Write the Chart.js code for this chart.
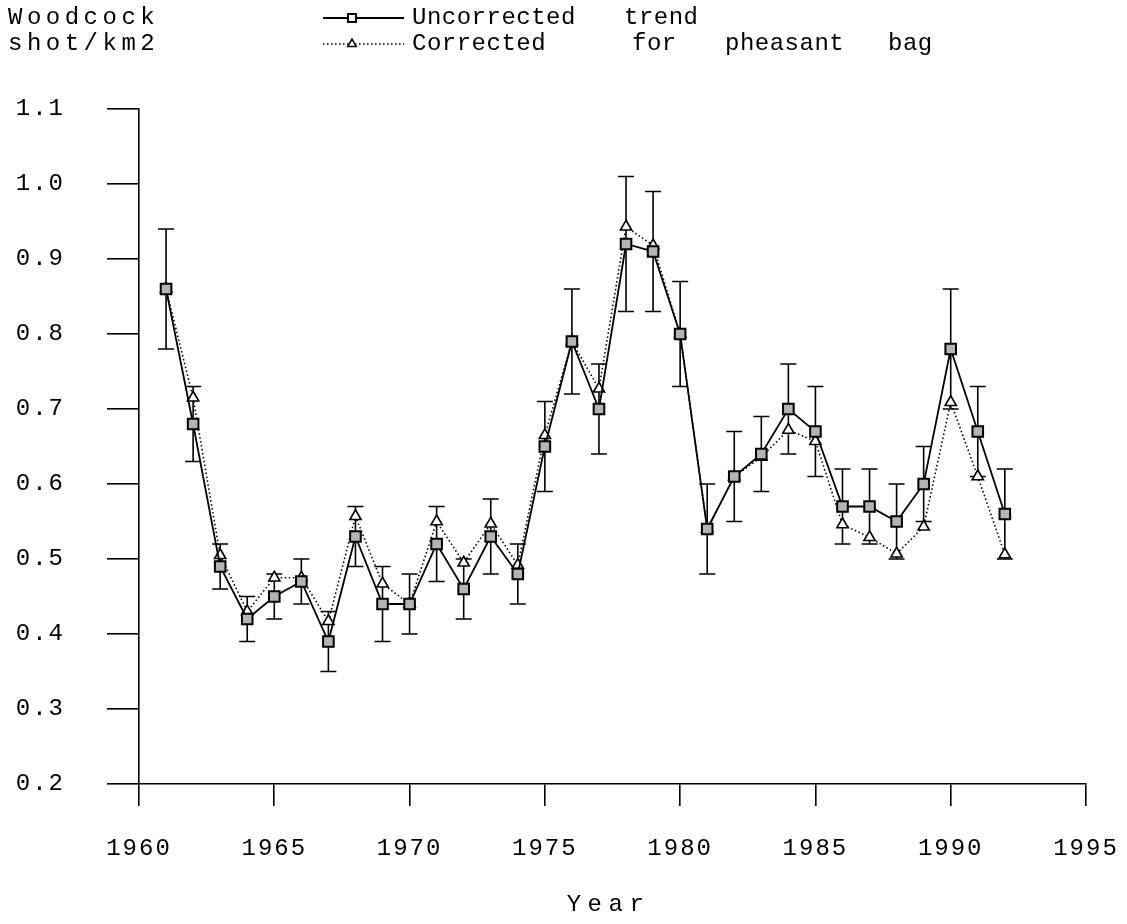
<!DOCTYPE html>
<html>
<head>
<meta charset="utf-8">
<title>Woodcock shot/km2</title>
<script src="https://cdn.jsdelivr.net/npm/chart.js@4.4.0/dist/chart.umd.min.js"></script>
<style>
  html, body { margin: 0; padding: 0; background: #fff; }
  canvas { display: block; }
</style>
</head>
<body>
<canvas id="grafico" width="1127" height="924"></canvas>
<script>
// Años y series
const anios = [1961, 1962, 1963, 1964, 1965, 1966, 1967, 1968, 1969, 1970,
               1971, 1972, 1973, 1974, 1975, 1976, 1977, 1978, 1979, 1980,
               1981, 1982, 1983, 1984, 1985, 1986, 1987, 1988, 1989, 1990,
               1991, 1992];
const sinCorregir = [0.86, 0.68, 0.49, 0.42, 0.45, 0.47, 0.39, 0.53, 0.44, 0.44,
                     0.52, 0.46, 0.53, 0.48, 0.65, 0.79, 0.70, 0.92, 0.91, 0.80,
                     0.54, 0.61, 0.64, 0.70, 0.67, 0.57, 0.57, 0.55, 0.60, 0.78,
                     0.67, 0.56];
const corregido = [0.86, 0.715, 0.505, 0.43, 0.475, 0.475, 0.417, 0.557, 0.467, 0.44,
                   0.55, 0.495, 0.547, 0.492, 0.665, 0.79, 0.727, 0.943, 0.918, 0.80,
                   0.54, 0.61, 0.636, 0.672, 0.657, 0.546, 0.529, 0.507, 0.543, 0.709,
                   0.61, 0.506];
// Error estándar de la serie sin corregir
const errorSinCorregir = [0.08, 0.05, 0.03, 0.03, 0.03, 0.03, 0.04, 0.04, 0.05, 0.04,
                          0.05, 0.04, 0.05, 0.04, 0.06, 0.07, 0.06, 0.09, 0.08, 0.07,
                          0.06, 0.06, 0.05, 0.06, 0.06, 0.05, 0.05, 0.05, 0.05, 0.08,
                          0.06, 0.06];

// Ejes
const ejeX = { min: 1960, max: 1995, paso: 5 };
const ejeY = { min: 0.2, max: 1.1, paso: 0.1 };

// Textos
const tituloY = ['Woodcock', 'shot/km2'];
const tituloX = 'Year';
const leyenda = [['Uncorrected', 'trend'], ['Corrected', 'for', 'pheasant', 'bag']];
const leyendaPosX = [[412, 624], [412, 632, 725, 888]];

const FUENTE = '"Liberation Mono", "DejaVu Sans Mono", monospace';

// Barras de error (debajo de los marcadores)
const barrasError = {
    id: 'barrasError',
    beforeDatasetsDraw(chart) {
        const { ctx, scales: { x, y } } = chart;
        ctx.save();
        ctx.strokeStyle = '#000';
        ctx.lineWidth = 1.6;
        anios.forEach((anio, i) => {
            const px = x.getPixelForValue(anio);
            const arriba = y.getPixelForValue(sinCorregir[i] + errorSinCorregir[i]);
            const abajo = y.getPixelForValue(sinCorregir[i] - errorSinCorregir[i]);
            ctx.beginPath();
            ctx.moveTo(px, arriba); ctx.lineTo(px, abajo);
            ctx.moveTo(px - 8, arriba); ctx.lineTo(px + 8, arriba);
            ctx.moveTo(px - 8, abajo); ctx.lineTo(px + 8, abajo);
            ctx.stroke();
        });
        ctx.restore();
    }
};

// Espaciado de letras para las etiquetas de los ejes
const espaciado = {
    id: 'espaciado',
    beforeDraw(chart) {
        chart.ctx.letterSpacing = '2px';
    }
};

// Títulos y leyenda dibujados a mano
const textos = {
    id: 'textos',
    afterDraw(chart) {
        const { ctx, chartArea } = chart;
        ctx.save();
        ctx.fillStyle = '#000';
        ctx.font = '24px ' + FUENTE;
        ctx.textBaseline = 'middle';

        // Título del eje Y arriba a la izquierda
        ctx.letterSpacing = '4.5px';
        ctx.textAlign = 'left';
        ctx.fillText(tituloY[0], 8, 18);
        ctx.fillText(tituloY[1], 8, 44);

        // Título del eje X
        ctx.letterSpacing = '6.5px';
        ctx.textAlign = 'center';
        ctx.fillText(tituloX, (chartArea.left + chartArea.right) / 2 - 4, 905);

        // Leyenda
        ctx.letterSpacing = '0.5px';
        ctx.textAlign = 'left';
        chart.data.datasets.forEach((ds, i) => {
            const yy = 18 + i * 26;
            ctx.save();
            ctx.strokeStyle = '#000';
            ctx.lineWidth = ds.borderWidth;
            ctx.setLineDash(ds.borderDash || []);
            ctx.beginPath();
            ctx.moveTo(323, yy); ctx.lineTo(404, yy);
            ctx.stroke();
            ctx.setLineDash([]);
            ctx.fillStyle = '#fff';
            ctx.lineWidth = ds.pointBorderWidth;
            Chart.helpers.drawPoint(ctx, {
                pointStyle: ds.pointStyle,
                radius: ds.pointRadius * 0.75,
                rotation: 0,
                borderWidth: ds.pointBorderWidth
            }, 352, yy);
            ctx.restore();
            leyenda[i].forEach((palabra, j) => {
                ctx.fillText(palabra, leyendaPosX[i][j], yy);
            });
        });
        ctx.restore();
    }
};

new Chart(document.getElementById('grafico'), {
    type: 'line',
    data: {
        datasets: [
            {
                label: leyenda[0].join(' '),
                data: anios.map((a, i) => ({ x: a, y: sinCorregir[i] })),
                borderColor: '#000',
                borderWidth: 1.8,
                pointStyle: 'rect',
                pointRadius: 7.5,
                pointBorderWidth: 2,
                pointBorderColor: '#000',
                pointBackgroundColor: '#b4b4b4',
                tension: 0
            },
            {
                label: leyenda[1].join(' '),
                data: anios.map((a, i) => ({ x: a, y: corregido[i] })),
                borderColor: '#000',
                borderWidth: 1.6,
                borderDash: [1.5, 2.5],
                pointStyle: 'triangle',
                pointRadius: 6.5,
                pointBorderWidth: 1.6,
                pointBorderColor: '#000',
                pointBackgroundColor: '#fff',
                tension: 0
            }
        ]
    },
    options: {
        responsive: false,
        animation: false,
        devicePixelRatio: 1,
        layout: { padding: { top: 109, right: 41, bottom: 0, left: 0 } },
        plugins: {
            legend: { display: false },
            tooltip: { enabled: false }
        },
        scales: {
            x: {
                type: 'linear',
                min: ejeX.min,
                max: ejeX.max,
                afterFit(scale) {
                    scale.height = 140;
                    // las etiquetas de los extremos no empujan el área del gráfico
                    scale.paddingLeft = 0;
                    scale.paddingRight = 0;
                },
                border: { display: true, color: '#000', width: 1.6 },
                grid: { drawOnChartArea: false, drawTicks: true, tickLength: 22, color: '#000', lineWidth: 1.6 },
                ticks: {
                    stepSize: ejeX.paso,
                    autoSkip: false,
                    maxRotation: 0,
                    padding: 28,
                    color: '#000',
                    font: { family: FUENTE, size: 24 },
                    callback: v => String(v)
                }
            },
            y: {
                min: ejeY.min,
                max: ejeY.max,
                afterFit(scale) { scale.width = 139; },
                border: { display: true, color: '#000', width: 1.6 },
                grid: { drawOnChartArea: false, drawTicks: true, tickLength: 32, color: '#000', lineWidth: 1.6 },
                ticks: {
                    stepSize: ejeY.paso,
                    padding: 42,
                    color: '#000',
                    font: { family: FUENTE, size: 24 },
                    callback: v => v.toFixed(1)
                }
            }
        }
    },
    plugins: [barrasError, espaciado, textos]
});
</script>
</body>
</html>
